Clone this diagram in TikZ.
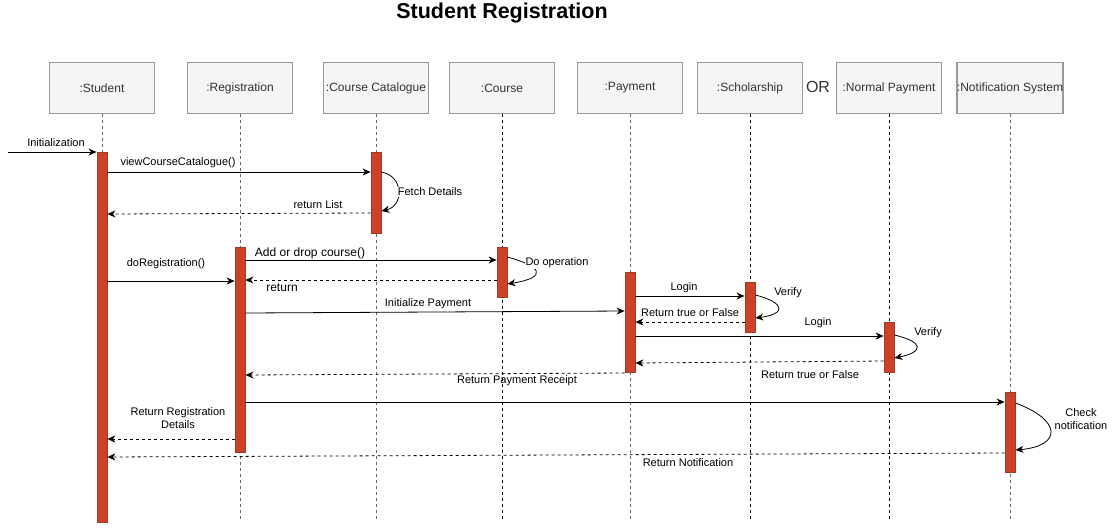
\documentclass[tikz,border=0pt]{standalone}
\usepackage{fontspec}
\setmainfont{Liberation Sans}
\usetikzlibrary{arrows.meta}
\definecolor{hdrfill}{HTML}{F5F5F5}
\definecolor{hdrline}{HTML}{999999}
\definecolor{hdrtext}{HTML}{333333}
\definecolor{barfill}{HTML}{CD4127}
\definecolor{barline}{HTML}{9E3A2A}
\definecolor{llgray}{HTML}{666666}
\begin{document}
\begin{tikzpicture}[x=1pt,y=-1pt,
  hdr/.style={draw=hdrline,line width=1.2pt,fill=hdrfill,minimum width=105pt,minimum height=51pt,inner sep=0pt,anchor=north,text=hdrtext,font=\fontsize{12}{14}\selectfont},
  bar/.style={draw=barline,line width=0.8pt,fill=barfill,minimum width=10pt,inner sep=0pt,anchor=north},
  life/.style={draw=llgray,line width=1pt,dash pattern=on 3pt off 3pt},
  lifeb/.style={draw=black,line width=0.7pt,dash pattern=on 3pt off 3pt},
  msg/.style={draw=black,line width=0.8pt,-{Stealth[length=8pt,width=7pt,inset=2.5pt]}},
  ret/.style={msg,dash pattern=on 3pt off 3pt},
  lbl/.style={font=\fontsize{11}{13}\selectfont,inner sep=1pt},
  lblb/.style={font=\fontsize{12}{14}\selectfont,inner sep=1pt},
  lblw/.style={lbl,fill=white}]
\useasboundingbox (0,0) rectangle (1119,528);
\node[font=\bfseries\fontsize{21.5}{26}\selectfont] (title) at (502,13) {Student Registration};
% headers
\node[hdr] (hS) at (102,62) {:Student};
\node[hdr] (hR) at (240,62) {:Registration};
\node[hdr] (hC) at (376,62) {:Course Catalogue};
\node[hdr] (hK) at (502,62) {:Course};
\node[hdr] (hP) at (630,62) {:Payment};
\node[hdr] (hH) at (750,62) {:Scholarship};
\node[font=\fontsize{16}{18}\selectfont,text=hdrtext] (or) at (818,87) {OR};
\node[hdr] (hN) at (889,62) {:Normal Payment};
\node[hdr] (hT) at (1010,62) {:Notification System};
% lifelines
\draw[life] (hS.south) -- (hS.south |- 0,522);
\draw[life] (hR.south) -- (hR.south |- 0,522);
\draw[life] (hC.south) -- (hC.south |- 0,522);
\draw[lifeb] (hK.south) -- (hK.south |- 0,522);
\draw[life] (hP.south) -- (hP.south |- 0,522);
\draw[lifeb] (hH.south) -- (hH.south |- 0,522);
\draw[lifeb] (hN.south) -- (hN.south |- 0,522);
\draw[life] (hT.south) -- (hT.south |- 0,522);
% activation bars
\node[bar,minimum height=370pt] (bS) at (102,152) {};
\node[bar,minimum height=81pt] (bC) at (376,152) {};
\node[bar,minimum height=205pt] (bR) at (240,247) {};
\node[bar,minimum height=50pt] (bK) at (502,247) {};
\node[bar,minimum height=100pt] (bP) at (630,272) {};
\node[bar,minimum height=50pt] (bH) at (750,282) {};
\node[bar,minimum height=50pt] (bN) at (889,322) {};
\node[bar,minimum height=80pt] (bT) at (1010,392) {};
% initialization
\coordinate (start) at (8,152);
\draw[msg] (start) -- (bS.west |- 0,152);
\node[lbl] (l1) at (56,143) {Initialization};
% view catalogue
\draw[msg] (bS.east |- 0,172) -- (bC.west |- 0,172);
\node[lbl] (l2) at (178,163) {viewCourseCatalogue()};
\draw[msg] (bC.east |- 0,172) .. controls (404,176) and (404,206) .. (bC.east |- 0,211);
\node[lblw] (l3) at (430,192) {Fetch Details};
\draw[ret] (bC.west |- 0,213) -- (bS.east |- 0,214);
\node[lbl] (l4) at (318,205) {return List};
% registration
\draw[msg] (bS.east |- 0,281) -- (bR.west |- 0,281);
\node[lbl] (l5) at (166,264) {doRegistration()};
\draw[msg] (bR.east |- 0,260) -- (bK.west |- 0,260);
\node[lblb] (l6) at (310,253) {Add or drop course()};
\draw[ret] (bK.west |- 0,280) -- (bR.east |- 0,280);
\node[lblb] (l7) at (282,288) {return};
\draw[msg] (bK.east |- 0,257) .. controls (540,266) and (550,277) .. (bK.east |- 0,284);
\node[lblw] (l8) at (557,263) {Do operation};
% payment
\draw[msg] (bR.east |- 0,313) -- (bP.west |- 0,311);
\node[lbl] (l9) at (428,304) {Initialize Payment};
\draw[msg] (bP.east |- 0,296) -- (bH.west |- 0,296);
\node[lbl] (l10) at (684,288) {Login};
\draw[msg] (bH.east |- 0,295) .. controls (786,303) and (786,314) .. (bH.east |- 0,318);
\node[lbl] (l11) at (788,293) {Verify};
\draw[ret] (bH.west |- 0,322) -- (bP.east |- 0,322);
\node[lbl] (l12) at (690,313) {Return true or False};
\draw[msg] (bP.east |- 0,336) -- (bN.west |- 0,336);
\node[lbl] (l13) at (818,323) {Login};
\draw[msg] (bN.east |- 0,335) .. controls (924,342) and (924,352) .. (bN.east |- 0,358);
\node[lbl] (l14) at (928,333) {Verify};
\draw[ret] (bN.west |- 0,361) -- (bP.east |- 0,363);
\node[lbl] (l15) at (810,375) {Return true or False};
\draw[ret] (bP.west |- 0,373) -- (bR.east |- 0,375);
\node[lbl] (l16) at (517,381) {Return Payment Receipt};
% notification
\draw[msg] (bR.east |- 0,402) -- (bT.west |- 0,402);
\draw[msg] (bT.east |- 0,403) .. controls (1062,420) and (1062,446) .. (bT.east |- 0,450);
\node[lbl,align=center] (l17) at (1081,419) {Check\\notification};
\draw[ret] (bR.west |- 0,439) -- (bS.east |- 0,439);
\node[lbl,align=center] (l18) at (178,418) {Return Registration\\Details};
\draw[ret] (bT.west |- 0,453) -- (bS.east |- 0,457);
\node[lbl] (l19) at (688,463) {Return Notification};
\end{tikzpicture}
\end{document}
